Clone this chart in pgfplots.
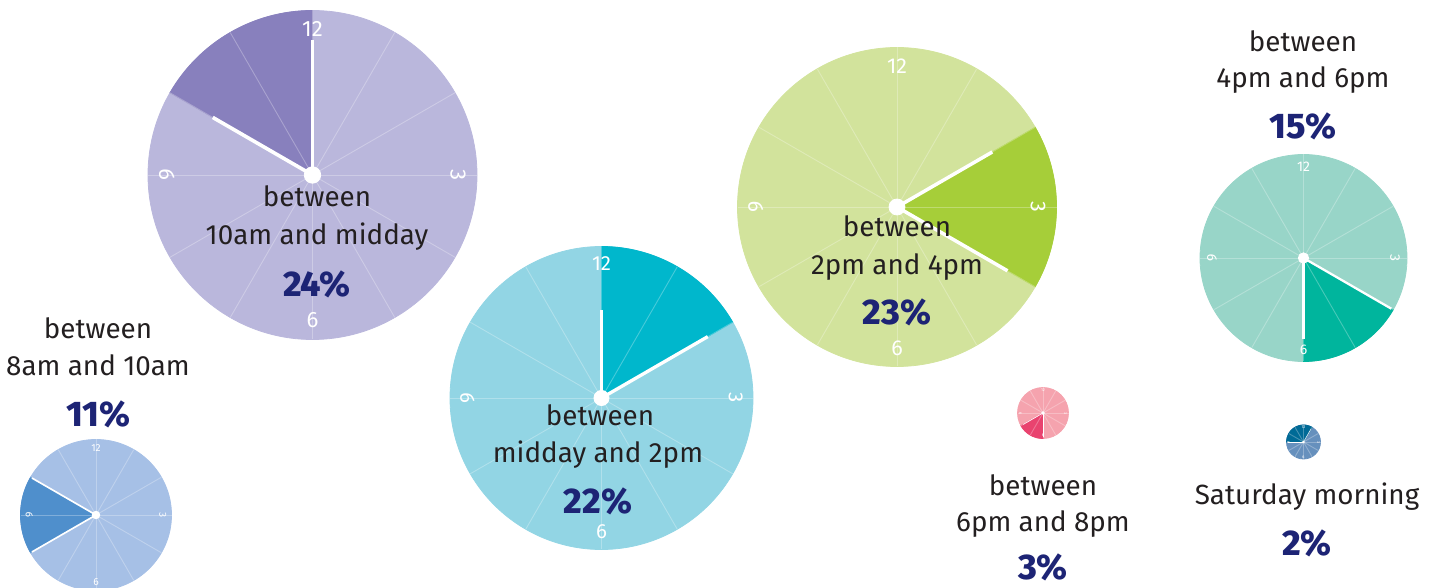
\documentclass[border=0pt]{standalone}
\usepackage{fontspec}
\setmainfont{Fira Sans}
\newfontfamily\pctfont{Fira Sans ExtraBold}
\usepackage{pgfplots}
\pgfplotsset{compat=1.18}
\usepackage{pgfplotstable}

% clock face colours: light face, dark slot
\definecolor{base1}{HTML}{A6C0E6}\definecolor{dark1}{HTML}{4F8FCC}
\definecolor{base2}{HTML}{BAB7DC}\definecolor{dark2}{HTML}{8880BD}
\definecolor{base3}{HTML}{92D5E4}\definecolor{dark3}{HTML}{00B7CC}
\definecolor{base4}{HTML}{D2E39C}\definecolor{dark4}{HTML}{A6CE39}
\definecolor{base5}{HTML}{98D5C8}\definecolor{dark5}{HTML}{00B59D}
\definecolor{base6}{HTML}{F5A3AE}\definecolor{dark6}{HTML}{E9436F}
\definecolor{base7}{HTML}{6690BD}\definecolor{dark7}{HTML}{006A96}
\definecolor{txt}{HTML}{231F20}
\definecolor{pcol}{HTML}{1D2475}

\pgfdeclareplotmark{blank}{}

% x, y: centre (px); r: radius (px); a, b: slot edges (deg); la, lb: hand lengths (share of r)
\pgfplotstableread{
x      y    pct  r      a     b    la    lb    c
96     515  11   75.5   150   210  0.98  0.98  1
312.5  175  24   164.5  90    150  0.82  0.70  2
601.5  398  22   151.5  30    90   0.81  0.58  3
897    207  23   159.5  -30   30   0.80  0.69  4
1303.5 258  15   103.5  -90   -30  0.78  0.98  5
1043   413  3    25.5   -150  -90  0.90  0.95  6
1303.5 442  2    17     60    180  0.90  0.90  7
}\clocks

\newcommand\lbl[3]{\node[anchor=base, text=txt, font=\fontsize{13.9}{16}\selectfont] at (axis cs:#1,#2) {#3};}
\newcommand\pct[3]{\node[anchor=base, text=pcol, font=\pctfont\fontsize{17.8}{20}\selectfont] at (axis cs:#1,#2) {#3};}

\begin{document}
\begin{tikzpicture}
\begin{axis}[
  scale only axis,
  width=718.5pt, height=294pt,
  xmin=0, xmax=1437, ymin=0, ymax=588,
  y dir=reverse,
  hide axis,
  clip marker paths=true,
]
\addplot[
  scatter, only marks, mark=blank,
  visualization depends on={\thisrow{r} \as \rad},
  visualization depends on={\thisrow{a} \as \angA},
  visualization depends on={\thisrow{b} \as \angB},
  visualization depends on={\thisrow{la} \as \lenA},
  visualization depends on={\thisrow{lb} \as \lenB},
  visualization depends on={\thisrow{c} \as \cidx},
  scatter/@pre marker code/.code={%
    \pgfmathtruncatemacro\ci{\cidx}%
    \pgfmathsetmacro\R{0.5*\rad}%
    \pgfmathsetmacro\fs{max(0.135*\R,2)}%
    \pgfmathsetmacro\rn{0.885*\R}%
    \pgfmathsetmacro\hw{0.022*\R}%
    \pgfmathsetmacro\dr{0.05*\R}%
    \pgfmathsetmacro\hA{\lenA*\R}%
    \pgfmathsetmacro\hB{\lenB*\R}%
    \fill[base\ci] (0,0) circle[radius=\R pt];
    \fill[dark\ci] (0,0) -- (\angA:\R pt) arc[start angle=\angA, end angle=\angB, radius=\R pt] -- cycle;
    \foreach \k in {0,30,...,330}{\draw[white, opacity=0.28, line width=0.45pt] (0,0) -- (\k:\R pt);}
    \node[white, inner sep=0, font=\fontsize{\fs}{\fs}\selectfont] at (90:\rn pt) {12};
    \node[white, inner sep=0, rotate=-90, font=\fontsize{\fs}{\fs}\selectfont] at (0:\rn pt) {3};
    \node[white, inner sep=0, font=\fontsize{\fs}{\fs}\selectfont] at (270:\rn pt) {6};
    \node[white, inner sep=0, rotate=90, font=\fontsize{\fs}{\fs}\selectfont] at (180:\rn pt) {9};
    \draw[white, line width=\hw pt] (0,0) -- (\angA:\hA pt);
    \draw[white, line width=\hw pt] (0,0) -- (\angB:\hB pt);
    \fill[white] (0,0) circle[radius=\dr pt];
  },
  scatter/@post marker code/.code={},
] table[x=x, y=y] {\clocks};

\lbl{98}{339}{between}
\lbl{98}{376}{8am and 10am}
\pct{98}{427}{11\%}

\lbl{317}{207}{between}
\lbl{317}{245}{10am and midday}
\pct{317}{297}{24\%}

\lbl{600}{426}{between}
\lbl{598}{463}{midday and 2pm}
\pct{598}{514}{22\%}

\lbl{897}{237}{between}
\lbl{897}{275}{2pm and 4pm}
\pct{897}{325}{23\%}

\lbl{1303}{52}{between}
\lbl{1303}{88}{4pm and 6pm}
\pct{1303}{139}{15\%}

\lbl{1043}{495}{between}
\lbl{1043}{531}{6pm and 8pm}
\pct{1043}{580}{3\%}

\lbl{1307}{505}{Saturday morning}
\pct{1307}{555}{2\%}
\end{axis}
\pgfresetboundingbox
\useasboundingbox (0,0) rectangle (718.5pt,294pt);
\end{tikzpicture}
\end{document}
